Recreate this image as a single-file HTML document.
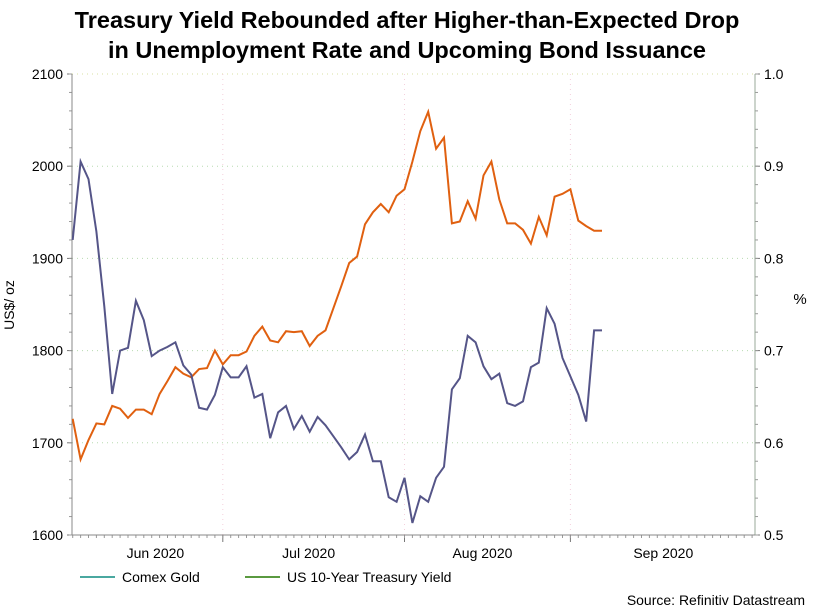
<!DOCTYPE html>
<html><head><meta charset="utf-8"><style>
body{margin:0;background:#fff;}
svg text{font-family:"Liberation Sans",Arial,sans-serif;fill:#000;}
</style></head><body>
<svg width="813" height="609" viewBox="0 0 813 609">
<text x="407" y="28" text-anchor="middle" font-size="23.5" font-weight="bold">Treasury Yield Rebounded after Higher-than-Expected Drop</text>
<text x="407" y="58" text-anchor="middle" font-size="23.5" font-weight="bold">in Unemployment Rate and Upcoming Bond Issuance</text>
<g id="grid"></g>
<g id="axes"></g>
<g id="series"></g>
<text transform="translate(14,305) rotate(-90)" text-anchor="middle" font-size="14">US$/ oz</text>
<text x="800" y="304" text-anchor="middle" font-size="15">%</text>
<g>
<line x1="80" y1="577" x2="115" y2="577" stroke="#4aa8a0" stroke-width="2"/>
<text x="122" y="582" font-size="14">Comex Gold</text>
<line x1="245" y1="577" x2="280" y2="577" stroke="#5a9a40" stroke-width="2"/>
<text x="287" y="582" font-size="14">US 10-Year Treasury Yield</text>
</g>
<text x="805" y="605" text-anchor="end" font-size="14">Source: Refinitiv Datastream</text>
</svg>
<script>
const gold=[1726,1682,1703,1721,1720,1740,1737,1727,1736,1736,1731,1753,1767,1782,1775,1771,1780,1781,1800,1785,1795,1795,1799,1816,1826,1811,1809,1821,1820,1821,1805,1816,1822,1846,1870,1895,1902,1937,1950,1959,1950,1968,1975,2005,2038,2059,2019,2031,1938,1940,1962,1943,1990,2005,1964,1938,1938,1931,1916,1945,1925,1967,1970,1975,1941,1935,1930,1930];
const yieldVals=[0.820,0.905,0.886,0.829,0.748,0.653,0.700,0.703,0.754,0.733,0.694,0.700,0.704,0.709,0.684,0.674,0.638,0.636,0.652,0.682,0.671,0.671,0.683,0.649,0.653,0.605,0.633,0.640,0.615,0.629,0.612,0.628,0.619,0.607,0.595,0.582,0.590,0.609,0.580,0.580,0.541,0.536,0.562,0.513,0.542,0.536,0.562,0.574,0.658,0.670,0.716,0.709,0.683,0.669,0.675,0.643,0.640,0.645,0.682,0.687,0.746,0.729,0.692,0.672,0.652,0.623,0.722,0.722];
const leftTicks=[1600,1700,1800,1900,2000,2100];
const rightTicks=[0.5,0.6,0.7,0.8,0.9,1.0];
const monthLabels=["Jun 2020","Jul 2020","Aug 2020","Sep 2020"];
const monthStartIdx=[-21,19,42,63];
const monthEndIdx=[19,42,63,85];
const labelShift=[8,-5,-5,6];
const NS="http://www.w3.org/2000/svg";
const L=72,R=755,T=74,B=535;
const xOf=i=>72.7+i*7.9;
const yL=v=>B-(v-1600)/500*(B-T);
const yR=v=>B-(v-0.5)/0.5*(B-T);
function mk(tag,attrs,parent){const e=document.createElementNS(NS,tag);for(const k in attrs)e.setAttribute(k,attrs[k]);parent.appendChild(e);return e;}
const grid=document.getElementById('grid'),axes=document.getElementById('axes'),series=document.getElementById('series');
leftTicks.forEach((v,k)=>{
 if(k>0&&k<leftTicks.length-1){const g=mk('line',{x1:L,x2:R,y1:yL(v),y2:yL(v),stroke:'#b8dcb0','stroke-dasharray':'1 4'},grid);
 
 }
 if(k===leftTicks.length-1){const g=mk('line',{x1:L,x2:R,y1:T,y2:T,stroke:'#d8e0a0','stroke-dasharray':'1 4'},grid);
 
 }
 const t=mk('text',{x:L-9,y:yL(v)+5,'text-anchor':'end','font-size':14},axes);t.textContent=v;
 
 
 mk('line',{x1:L-5,x2:L,y1:yL(v),y2:yL(v),stroke:'#777'},axes);
});
for(let v=1600;v<=2100;v+=20){mk('line',{x1:L-3,x2:L,y1:yL(v),y2:yL(v),stroke:'#999'},axes);}
rightTicks.forEach(v=>{
 const t=mk('text',{x:R+9,y:yR(v)+5,'font-size':14},axes);t.textContent=v.toFixed(1);
 
 
 mk('line',{x1:R,x2:R+5,y1:yR(v),y2:yR(v),stroke:'#777'},axes);
});
for(let v=0.5;v<=1.0001;v+=0.02){mk('line',{x1:R,x2:R+3,y1:yR(v),y2:yR(v),stroke:'#999'},axes);}
monthLabels.forEach((m,k)=>{
 const gx=xOf(monthStartIdx[k]);
 if(gx>L+5&&gx<R){const g=mk('line',{x1:gx,x2:gx,y1:T,y2:B,stroke:'#f4d0dc','stroke-dasharray':'1 4'},grid);
 
 
 mk('line',{x1:gx,x2:gx,y1:B,y2:B+7,stroke:'#777'},axes);}
 const cx=(Math.max(xOf(monthStartIdx[k]),L)+Math.min(xOf(monthEndIdx[k]),R))/2+labelShift[k];
 const t=mk('text',{x:cx,y:B+23,'text-anchor':'middle','font-size':14},axes);t.textContent=m;
 
 
});
for(let i=0;xOf(i)<=R;i++){mk('line',{x1:xOf(i),x2:xOf(i),y1:B,y2:B+3,stroke:'#999'},axes);}
mk('line',{x1:L,x2:L,y1:T,y2:B,stroke:'#888'},axes);
mk('line',{x1:R,x2:R,y1:T,y2:B,stroke:'#9a9'},axes);
mk('line',{x1:L,x2:R,y1:B,y2:B,stroke:'#888'},axes);
const gp=mk('polyline',{points:gold.map((v,i)=>xOf(i)+','+yL(v)).join(' '),fill:'none',stroke:'#e06010','stroke-width':2},series);


const yp=mk('polyline',{points:yieldVals.map((v,i)=>xOf(i)+','+yR(v)).join(' '),fill:'none',stroke:'#555588','stroke-width':2},series);


</script>
</body></html>
